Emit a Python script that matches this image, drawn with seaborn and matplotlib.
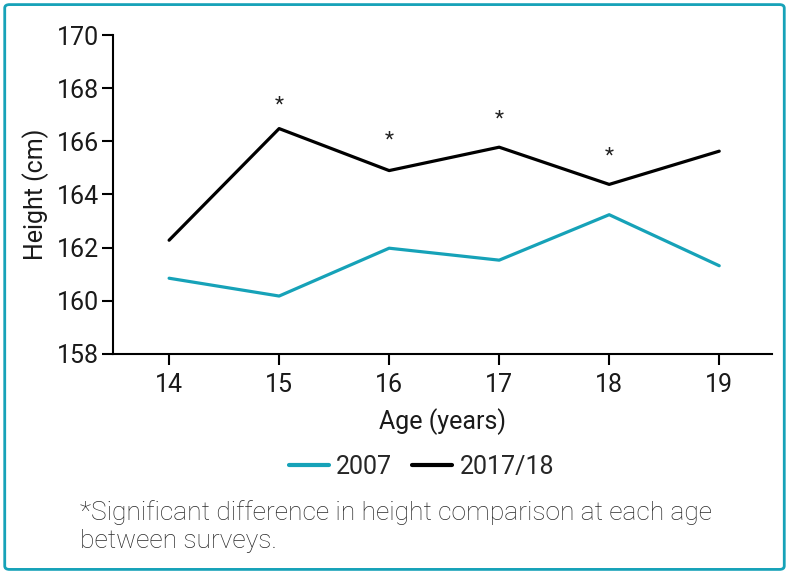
import matplotlib
matplotlib.use("Agg")
import matplotlib.pyplot as plt
import seaborn as sns
import pandas as pd
from matplotlib.patches import FancyBboxPatch

# data
ages = [14, 15, 16, 17, 18, 19]
height_2007 = [160.85, 160.18, 161.98, 161.53, 163.24, 161.32]
height_2017 = [162.28, 166.48, 164.90, 165.78, 164.38, 165.63]
significant_ages = [15, 16, 17, 18]
star_heights = [167.35, 166.05, 166.85, 165.45]

teal = "#16a2b8"

df = pd.DataFrame({
    "Age": ages * 2,
    "Height": height_2007 + height_2017,
    "Survey": ["2007"] * len(ages) + ["2017/18"] * len(ages),
})

sns.set_theme(style="ticks")
plt.rcParams["font.family"] = ["Roboto", "DejaVu Sans"]

fig = plt.figure(figsize=(7.89, 5.74), dpi=100)
ax = fig.add_axes([0.1432, 0.3833, 0.8353, 0.5557])

sns.lineplot(data=df, x="Age", y="Height", hue="Survey",
             palette={"2007": teal, "2017/18": "black"},
             linewidth=2.3, ax=ax, legend=False)

for a, s in zip(significant_ages, star_heights):
    ax.text(a, s, "*", ha="center", va="center", fontsize=15, color="#222222")

ax.set_xlim(13.49, 19.48)
ax.set_ylim(158, 170)
ax.set_xticks(ages)
ax.set_yticks(range(158, 171, 2))
ax.tick_params(axis="both", labelsize=18, length=8, width=1.5, color="black",
               labelcolor="#1a1a1a")
ax.tick_params(axis="y", pad=2)
ax.tick_params(axis="x", pad=6)
for sp in ["top", "right"]:
    ax.spines[sp].set_visible(False)
for sp in ["left", "bottom"]:
    ax.spines[sp].set_linewidth(1.5)
    ax.spines[sp].set_color("black")

ax.set_xlabel("Age (years)", fontsize=18, color="#1a1a1a", labelpad=8)
ax.set_ylabel("Height (cm)", fontsize=18, color="#1a1a1a", labelpad=6)

handles = [plt.Line2D([], [], color=teal, lw=3),
           plt.Line2D([], [], color="black", lw=3)]
fig.legend(handles, ["2007", "2017/18"], loc="center", ncol=2,
           bbox_to_anchor=(0.534, 0.186), frameon=False, fontsize=18,
           handlelength=1.6, handletextpad=0.3, columnspacing=0.8)

fig.text(0.101, 0.082, "*Significant difference in height comparison at each age\nbetween surveys.",
         fontsize=19, color="#2a2a2a", ha="left", va="center",
         linespacing=1.2, fontweight="light")

border = FancyBboxPatch((0.006, 0.008), 0.988, 0.984, transform=fig.transFigure,
                        boxstyle="round,pad=0,rounding_size=0.006",
                        fill=False, edgecolor=teal, linewidth=2)
fig.patches.append(border)

fig.savefig("out.png", dpi=100)
